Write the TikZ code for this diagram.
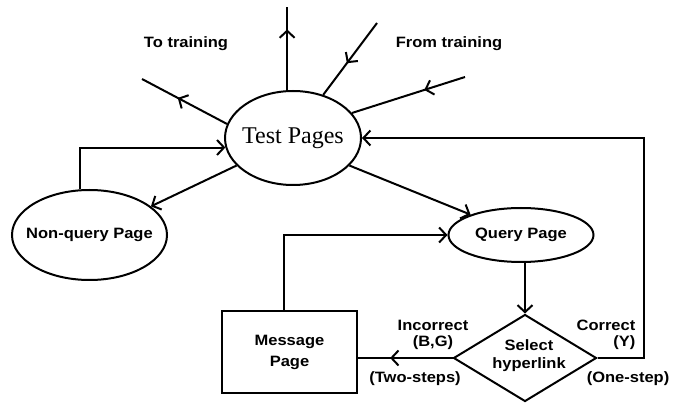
\documentclass[tikz,border=0pt]{standalone}
\usepackage{fontspec}
\setmainfont{Liberation Serif}
\newfontfamily\labfont{Liberation Sans}[FakeStretch=1.1]
\usetikzlibrary{shapes.geometric,arrows.meta,decorations.markings}
\tikzset{
  lab/.style={font=\labfont\bfseries\fontsize{15}{16}\selectfont, align=center, inner sep=0pt},
  shp/.style={draw, line width=2pt, inner sep=0pt},
  tipend/.style={-{Straight Barb[length=7pt,width=15pt]}},
  midarr/.style={postaction={decorate},
    decoration={markings, mark=at position #1 with {\arrow{Straight Barb[length=7pt,width=15pt]}}}},
}
\begin{document}
\begin{tikzpicture}[x=1pt,y=-1pt,line width=2pt]
\useasboundingbox (0,0) rectangle (675,403);
% nodes
\node[shp, ellipse, minimum width=136pt, minimum height=94pt, inner xsep=-5pt,
      font=\fontsize{24}{28}\selectfont] (tp) at (293,138) {Test Pages};
\node[shp, ellipse, lab, minimum width=155pt, minimum height=90pt, inner xsep=-15pt] (nq) at (89.5,235) {Non-query Page};
\node[shp, ellipse, lab, minimum width=145pt, minimum height=54pt] (qp) at (521,235) {Query Page};
\node[shp, rectangle, minimum width=135pt, minimum height=82pt, lab, font=\labfont\bfseries\fontsize{15}{21}\selectfont] (msg) at (289.5,352) {Message\\Page};
\node[shp, diamond, minimum width=143pt, minimum height=87pt] (sel) at (525,358) {};
\node[lab, font=\labfont\bfseries\fontsize{15}{18}\selectfont] (seltxt) at (529,356) {Select\\hyperlink};
% free ends
\coordinate (up) at (287,7);
\coordinate (tt) at (142,79);
\coordinate (f1) at (377,23);
\coordinate (f2) at (465,77);
% labels
\node[lab] (totr) at (186,44) {To training};
\node[lab] (frtr) at (449,44) {From training};
\node[lab] (inc) at (433,335) {Incorrect\\(B,G)};
\node[lab, align=right] (cor) at (606,335) {Correct\\(Y)};
\node[lab] (two) at (415,379) {(Two-steps)};
\node[lab] (one) at (628,379) {(One-step)};
% connectors
\draw[midarr=0.73] (tp.97) -- (tp.97 |- up);
\draw[midarr=0.58] (tp.168) -- (tt);
\draw[midarr=0.56] (f1) -- (tp.55);
\draw[midarr=0.36] (f2) -- (tp.23);
\draw[tipend] (tp.206) -- (nq.25);
\draw[tipend] (tp.334) -- (qp.158);
\draw[tipend] (nq.102) |- (tp.188);
\draw[tipend] ([xshift=-6pt]msg.north) |- (qp.west);
\draw[tipend] (qp.south -| sel.north) -- (sel.north);
\draw[midarr=0.66] (sel.west) -- (msg.east |- sel.west);
\draw[tipend] (sel.east) -- ++(46,0) |- (tp.east);
\end{tikzpicture}
\end{document}
